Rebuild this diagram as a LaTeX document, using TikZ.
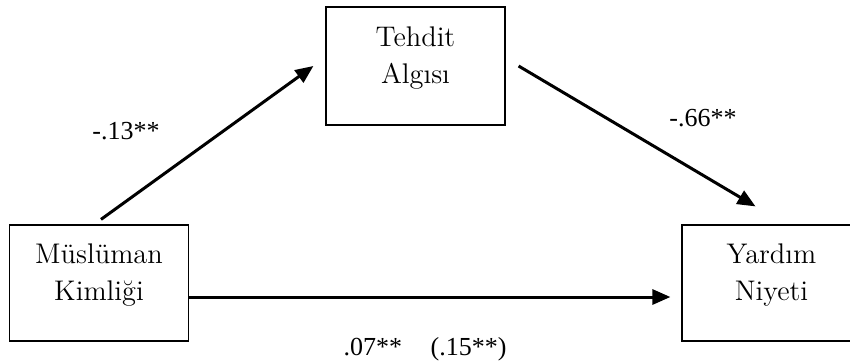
\documentclass[tikz,border=0pt]{standalone}
\usepackage{fontspec}
\newfontfamily\numfont{Liberation Serif}
\usepackage{tikz}
\usetikzlibrary{arrows.meta, positioning}

\tikzset{
  varbox/.style={draw, line width=0.6pt, align=center, inner sep=0pt,
    font=\fontsize{14.2}{18.5}\selectfont},
  patharrow/.style={line width=1.5pt, -{Triangle[length=9pt, width=7.5pt]}},
  coef/.style={font=\numfont\fontsize{13}{15}\selectfont}
}

\begin{document}
\begin{tikzpicture}[x=0.5pt, y=-0.5pt]
  \useasboundingbox (0, 0) rectangle (850, 360);

  % Variables
  \node[varbox, minimum width=89.5pt, minimum height=59pt, text depth=10.5pt] (threat) at (415.5, 66) {Tehdit\\Algısı};
  \node[varbox, minimum width=89.5pt, minimum height=58pt, text depth=11pt] (identity) at (99, 283) {Müslüman\\Kimliği};
  \node[varbox, minimum width=89.5pt, minimum height=58pt, text depth=11pt] (helping) at (771.5, 283) {Yardım\\Niyeti};

  % Paths
  \draw[patharrow] ([xshift=1pt, yshift=2.5pt]identity.north) -- ([xshift=-6pt]threat.west);
  \draw[patharrow] ([xshift=6.5pt]threat.east) -- ([xshift=-8pt, yshift=9pt]helping.north);
  \draw[patharrow] ([yshift=-7pt]identity.east) -- ([xshift=-5.5pt, yshift=-7pt]helping.west);

  % Coefficients
  \node[coef] (a) at (126, 131) {-.13**};
  \node[coef] (b) at (703, 118) {-.66**};
  \node[coef] (c) at (425, 349) {.07**\hspace{1.1em}(.15**)};
\end{tikzpicture}
\end{document}
